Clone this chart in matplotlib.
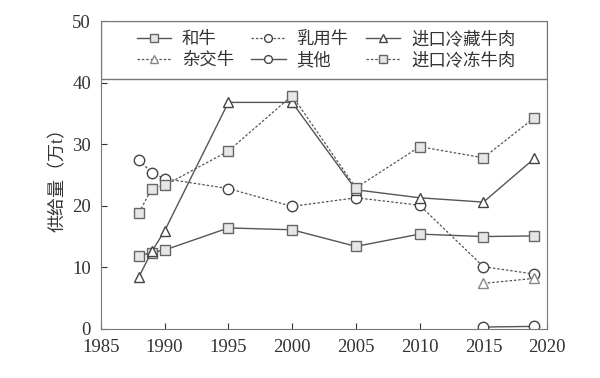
import matplotlib.pyplot as plt
from matplotlib.patches import Rectangle
import numpy as np

plt.rcParams['font.family'] = ['Liberation Serif', 'Noto Sans CJK SC']
plt.rcParams['axes.unicode_minus'] = False

years = [1988, 1989, 1990, 1995, 2000, 2005, 2010, 2015, 2019]
wagyu = [11.9, 12.4, 12.8, 16.4, 16.1, 13.4, 15.4, 15.0, 15.1]
dairy = [27.4, 25.4, 24.4, 22.8, 19.9, 21.3, 20.1, 10.1, 8.9]
chilled = [8.5, 12.6, 15.9, 36.8, 36.8, 22.6, 21.3, 20.6, 27.7]
frozen = [18.9, 22.8, 23.3, 28.9, 37.9, 22.9, 29.6, 27.8, 34.3]
years_new = [2015, 2019]
cross = [7.4, 8.2]
other = [0.3, 0.4]

line_c = '#555555'
fig = plt.figure(figsize=(6, 3.78), dpi=100)
ax = fig.add_axes([0.168, 0.130, 0.744, 0.814])

sq = dict(marker='s', markersize=7.5, markerfacecolor='#e6e6e6', markeredgecolor='#666666', markeredgewidth=1)
ci = dict(marker='o', markersize=7.5, markerfacecolor='white', markeredgecolor='#444444', markeredgewidth=1)
tr = dict(marker='^', markersize=7.5, markerfacecolor='white', markeredgecolor='#444444', markeredgewidth=1)

h1, = ax.plot(years, wagyu, '-', color=line_c, lw=1, label='和牛', **sq)
h2, = ax.plot(years, dairy, '--', color=line_c, lw=0.9, dashes=(2, 1.5), label='乳用牛', **ci)
h3, = ax.plot(years, chilled, '-', color=line_c, lw=1, label='进口冷藏牛肉', **tr)
tr_grey = dict(tr, markeredgecolor='#888888')
h4, = ax.plot(years_new, cross, '--', color=line_c, lw=0.9, dashes=(2, 1.5), label='杂交牛', **tr_grey)
h5, = ax.plot(years_new, other, '-', color=line_c, lw=1, label='其他', **ci)
h6, = ax.plot(years, frozen, '--', color=line_c, lw=0.9, dashes=(2, 1.5), label='进口冷冻牛肉', **sq)

ax.set_xlim(1985, 2020)
ax.set_ylim(0, 50)
ax.set_xticks(np.arange(1985, 2021, 5))
ax.set_yticks(np.arange(0, 51, 10))
ax.tick_params(direction='in', labelsize=13.5, colors='#333333', length=4, pad=7)
for s in ax.spines.values():
    s.set_color('#777777')
ax.set_ylabel('供给量（万t）', fontsize=13, color='#333333', labelpad=4)

# legend box spans the full width of the axes
ax.add_patch(Rectangle((0, 0.812), 1, 0.188, transform=ax.transAxes, facecolor='white',
                       edgecolor='#777777', lw=1, zorder=4))
leg = ax.legend([h1, h4, h2, h5, h3, h6], ['和牛', '杂交牛', '乳用牛', '其他', '进口冷藏牛肉', '进口冷冻牛肉'],
                ncol=3, loc='center left', bbox_to_anchor=(0.045, 0.906), frameon=False,
                fontsize=12.5, handlelength=2.0, markerscale=0.75, labelspacing=0.25,
                columnspacing=1.0, handletextpad=0.6)
leg.set_zorder(5)
for t in leg.get_texts():
    t.set_color('#333333')

plt.savefig('out.png')
